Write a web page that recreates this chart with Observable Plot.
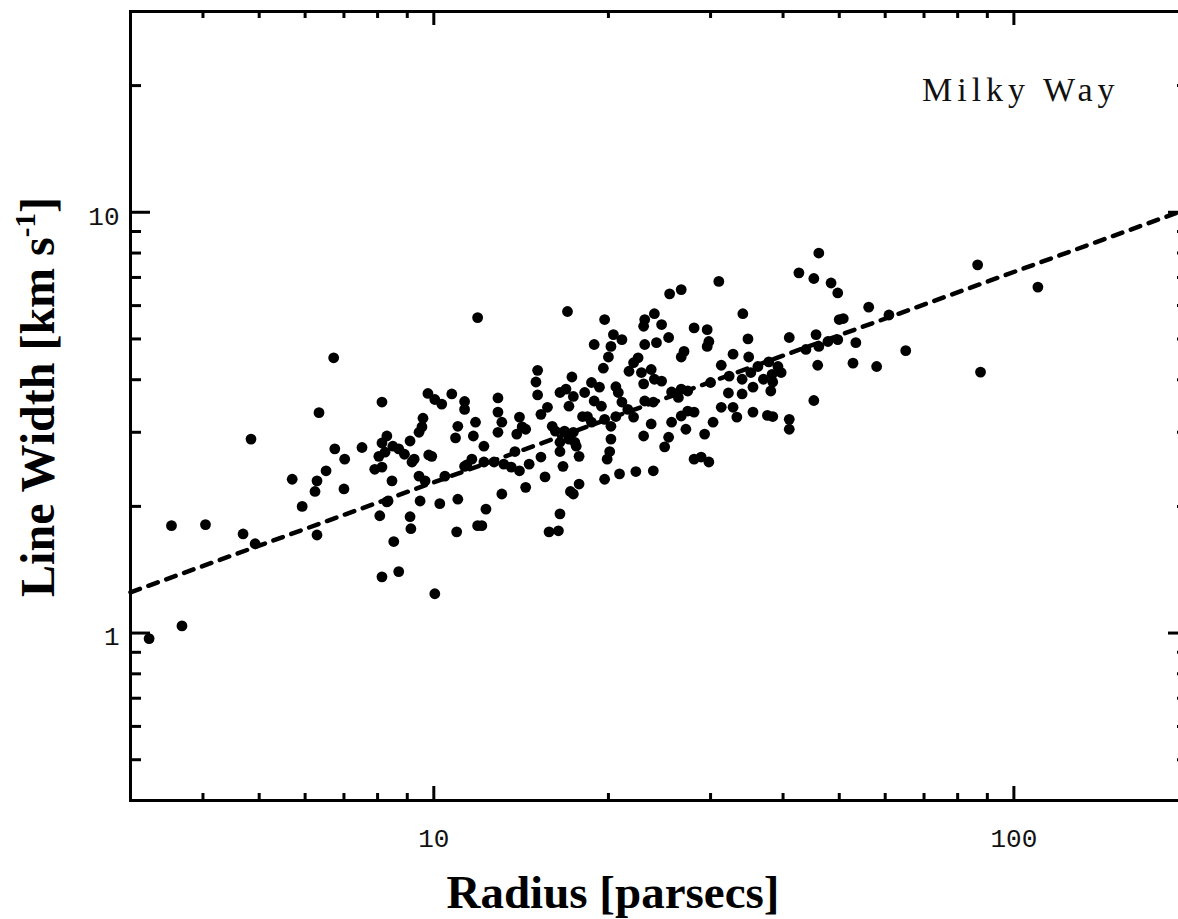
<!DOCTYPE html>
<html><head><meta charset="utf-8">
<script src="https://cdn.jsdelivr.net/npm/d3@7"></script>
<script src="https://cdn.jsdelivr.net/npm/@observablehq/plot@0.6"></script>
<style>
html,body{margin:0;padding:0;background:#fff;overflow:hidden;}
#chart svg{max-width:none !important;display:block;}
</style></head><body><div id="chart"></div>
<script>
// Cloud radius [pc] and line width [km/s]
const radius = [
3.23,3.68,3.53,4.04,4.69,4.92,4.84,5.70,5.93,6.29,6.24,6.52,7.02,7.00,6.75,7.52,8.04,8.24,7.91,8.14,
8.47,8.30,8.07,8.53,8.14,8.70,10.04,9.10,9.13,9.47,9.43,9.66,9.92,9.17,10.45,10.24,11.0,10.95,11.9,11.3,
11.63,6.29,6.34,6.72,11.9,17.0,8.14,9.77,10.04,10.32,10.74,11.3,11.3,15.1,15.0,17.3,12.9,15.1,15.7,15.3,
12.9,13.1,12.9,14.05,14.2,13.9,14.4,11.8,11.0,10.9,11.7,12.2,9.58,9.54,9.43,9.10,8.30,8.14,8.5,8.7,
8.9,9.25,9.8,8.34,11.4,12.2,12.7,13.2,13.6,14.05,14.6,13.8,15.3,16.5,16.7,17.8,17.8,17.2,16.5,16.4,
15.8,15.55,14.4,13.1,12.3,12.1,18.05,17.1,16.5,16.2,16.0,16.8,17.4,17.6,16.9,17.1,17.4,16.5,
46.1,42.6,45.2,48.4,49.7,31.0,26.7,25.5,24.0,23.1,23.0,24.7,25.4,24.2,23.1,28.1,29.6,29.8,29.6,27.0,
26.7,34.1,34.8,34.9,32.8,31.3,32.3,30.0,41.0,45.6,43.8,46.1,47.8,49.7,45.9,50.0,37.8,36.2,39.2,38.3,
39.7,35.2,34.0,35.5,34.0,38.1,37.0,38.4,32.2,31.3,32.8,33.3,35.5,37.6,38.4,41.0,41.0,45.2,30.3,29.3,
28.1,27.4,26.7,27.2,25.7,25.4,25.0,28.1,28.9,29.8,26.7,25.7,27.4,26.4,23.7,23.0,23.9,22.3,20.9,19.7,
17.4,19.9,20.1,20.2,20.2,19.7,20.6,21.1,21.6,22.1,20.8,20.6,19.3,18.7,18.2,18.9,19.45,18.4,18.7,17.5,
19.7,20.4,21.1,20.2,18.9,20.0,19.6,22.1,22.5,21.7,22.8,23.7,24.0,24.7,23.0,23.1,23.9,
56.2,60.9,50.8,53.4,52.8,58.0,65.1,86.6,110,87.6
];
const lineWidth = [
0.97,1.04,1.80,1.81,1.72,1.63,2.89,2.32,2.00,2.30,2.17,2.43,2.59,2.20,2.74,2.76,2.63,2.69,2.45,2.48,
2.30,2.05,1.90,1.65,1.36,1.40,1.24,1.89,1.77,2.06,2.36,2.30,2.63,2.55,2.36,2.03,2.08,1.74,1.80,2.49,
2.59,1.71,3.34,4.51,5.62,5.81,3.54,3.71,3.59,3.50,3.70,3.55,3.40,4.21,3.95,4.06,3.62,3.68,3.44,3.31,
3.35,3.17,3.00,3.26,3.09,2.97,3.05,3.17,3.10,2.91,2.94,2.78,3.24,3.09,3.00,2.86,2.94,2.83,2.78,2.74,
2.66,2.59,2.65,2.06,2.51,2.55,2.55,2.52,2.48,2.43,2.52,2.70,2.62,2.70,2.49,2.63,2.26,2.17,1.92,1.75,
1.74,2.35,2.22,2.14,1.97,1.80,3.27,2.89,2.84,3.02,3.10,3.02,3.00,2.78,3.80,3.46,3.65,3.73,
8.0,7.18,6.96,6.79,6.43,6.85,6.55,6.4,5.74,5.56,5.36,5.41,5.04,4.9,4.85,5.31,5.26,4.93,4.80,4.67,
4.53,5.74,5.0,4.53,4.6,4.33,4.08,3.94,5.04,5.12,4.72,4.80,4.93,4.98,4.33,5.56,4.41,4.3,4.3,4.12,
4.16,4.16,4.01,3.84,3.70,3.76,4.01,3.95,3.72,3.44,3.44,3.26,3.35,3.29,3.27,3.22,3.05,3.57,3.17,2.97,
3.35,3.37,3.28,3.05,3.17,2.92,2.77,2.59,2.62,2.55,3.80,3.74,3.76,3.63,3.14,2.94,2.43,2.42,2.39,2.32,
2.14,2.59,2.70,2.89,3.10,3.22,3.27,3.54,3.40,3.26,3.73,3.85,3.84,3.94,3.73,3.56,3.46,3.27,3.17,2.84,
5.56,5.12,4.98,4.80,4.85,4.53,4.26,4.39,4.51,4.19,4.16,4.23,4.01,3.97,3.91,3.56,3.54,
5.95,5.7,5.59,4.90,4.38,4.3,4.69,7.5,6.64,4.17
];
// Power-law fit drawn as dashed line (endpoints)
const fitRadius = [3, 200];
const fitWidth = [1.25, 10.2];
// Tick values
const xMajor = [10, 100];
const xMinor = [4, 5, 6, 7, 8, 9, 20, 30, 40, 50, 60, 70, 80, 90];
const yMajor = [1, 10];
const yMinor = [0.5, 0.6, 0.7, 0.8, 0.9, 2, 3, 4, 5, 6, 7, 8, 9, 20];
const xTitle = "Radius [parsecs]";
const yTitle = "Line Width [km s";
const yTitleSup = "-1";
const annotation = "Milky Way";

const points = radius.map((r, i) => ({r, v: lineWidth[i]}));
const fit = fitRadius.map((r, i) => ({r, v: fitWidth[i]}));

const W = 1200, H = 919;
const mL = 130, mR = 12, mT = 11, mB = 119;
const pw = W - mL - mR, ph = H - mT - mB;
const tickStyle = {stroke: "black", strokeWidth: 3};
const labelFont = "Liberation Mono, monospace";

const chart = Plot.plot({
  width: W, height: H,
  marginLeft: mL, marginRight: mR, marginTop: mT, marginBottom: mB,
  style: {background: "white", maxWidth: "none", overflow: "visible"},
  x: {type: "log", domain: [3, 200]},
  y: {type: "log", domain: [0.4, 30]},
  marks: [
    Plot.line(fit, {x: "r", y: "v", stroke: "black", strokeWidth: 4.5, strokeDasharray: "10,9"}),
    Plot.dot(points, {x: "r", y: "v", r: 5.4, fill: "black", stroke: "none"}),
    // inward ticks on all four sides
    Plot.tickX(xMajor, {x: d => d, ...tickStyle, insetTop: ph - 14}),
    Plot.tickX(xMajor, {x: d => d, ...tickStyle, insetBottom: ph - 14}),
    Plot.tickX(xMinor, {x: d => d, ...tickStyle, insetTop: ph - 7}),
    Plot.tickX(xMinor, {x: d => d, ...tickStyle, insetBottom: ph - 7}),
    Plot.tickY(yMajor, {y: d => d, ...tickStyle, insetRight: pw - 20}),
    Plot.tickY(yMajor, {y: d => d, ...tickStyle, insetLeft: pw - 20}),
    Plot.tickY(yMinor, {y: d => d, ...tickStyle, insetRight: pw - 11}),
    Plot.tickY(yMinor, {y: d => d, ...tickStyle, insetLeft: pw - 11}),
    Plot.frame({stroke: "black", strokeWidth: 3}),
    Plot.axisX(xMajor, {anchor: "bottom", tickSize: 0, tickPadding: 28, fontSize: 26,
      fontFamily: labelFont, fill: "#111", tickFormat: d => String(d), label: null}),
    Plot.axisY(yMajor, {anchor: "left", tickSize: 0, tickPadding: 11, dy: 4, fontSize: 26,
      fontFamily: labelFont, fill: "#111", tickFormat: d => String(d), label: null})
  ]
});
chart.style.maxWidth = "none";
document.getElementById("chart").appendChild(chart);

const svg = d3.select(chart);
svg.append("text")
  .attr("x", 922).attr("y", 101)
  .attr("text-anchor", "start")
  .attr("font-family", "Liberation Serif, serif")
  .attr("font-size", 34).attr("letter-spacing", 5).attr("fill", "#111")
  .text(annotation);
svg.append("text")
  .attr("x", 613).attr("y", 908)
  .attr("text-anchor", "middle")
  .attr("font-family", "Liberation Serif, serif")
  .attr("font-weight", "bold").attr("font-size", 47).attr("fill", "black")
  .text(xTitle);
const yt = svg.append("text")
  .attr("transform", "translate(54,397) rotate(-90)")
  .attr("text-anchor", "middle")
  .attr("font-family", "Liberation Serif, serif")
  .attr("font-weight", "bold").attr("font-size", 48).attr("fill", "black");
yt.append("tspan").text(yTitle);
yt.append("tspan").attr("font-size", 29).attr("dy", -19).text(yTitleSup);
yt.append("tspan").attr("dy", 19).text("]");
</script></body></html>
